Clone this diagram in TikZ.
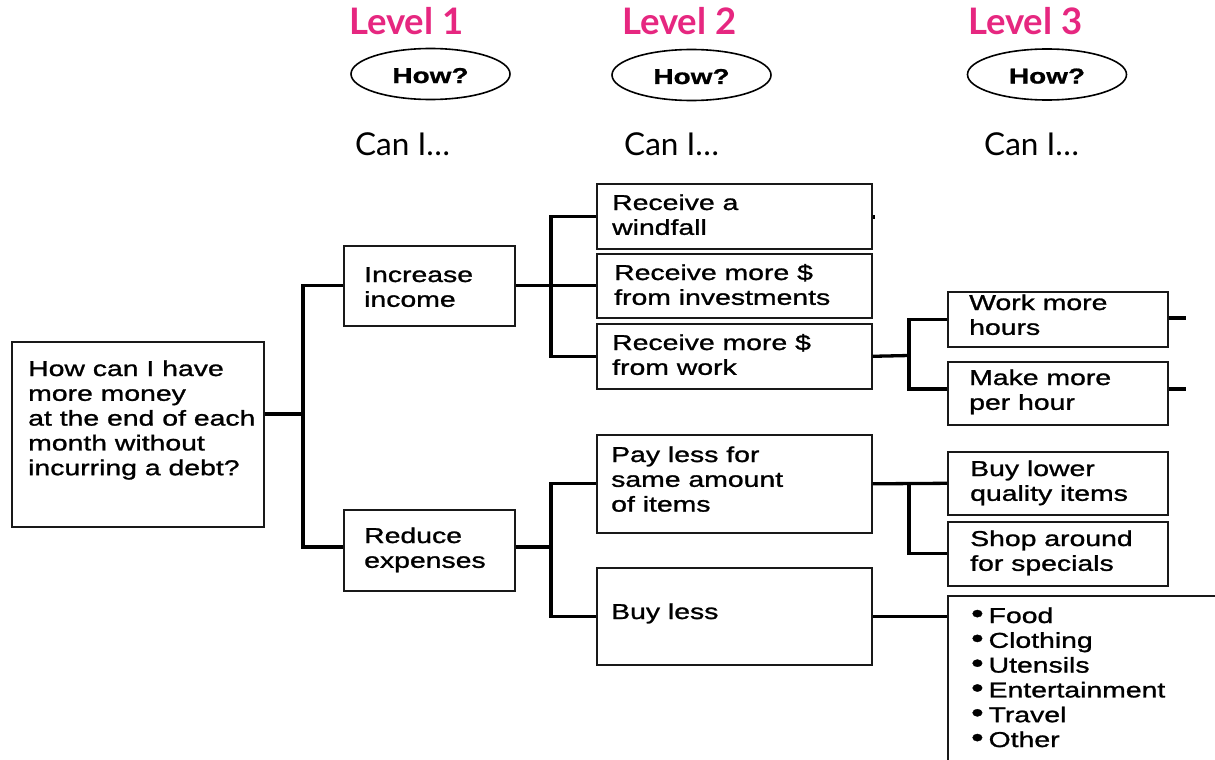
\documentclass[tikz,border=0pt]{standalone}
\usepackage{fontspec}
\setmainfont{Liberation Sans}
\newfontfamily\arialx{Liberation Sans}[FakeStretch=1.32,FakeBold=1.2]
\newfontfamily\arialb{Liberation Sans}[FakeStretch=1.30,FakeBold=1]
\newfontfamily\latof{Lato}
\usetikzlibrary{shapes.geometric,calc}
\definecolor{lvlpink}{RGB}{230,39,128}
\tikzset{
 bx/.style={draw=black!90, line width=1.6pt, inner sep=0pt, anchor=north west},
 conn/.style={draw=black, line width=3.3pt},
 txt/.style={anchor=base west, inner sep=0pt, font=\arialx\fontsize{21.5}{24.8}\selectfont},
 lvl/.style={anchor=base west, inner sep=0pt, text=lvlpink, font=\latof\bfseries\fontsize{36.5}{40}\selectfont},
 cani/.style={anchor=base west, inner sep=0pt, font=\latof\fontsize{31.5}{36}\selectfont},
 how/.style={draw=black, ellipse, line width=1.6pt, inner sep=0pt, minimum width=159pt, minimum height=51pt, text height=18pt, text depth=0pt, font=\arialb\bfseries\fontsize{21.5}{24}\selectfont},
}
\newcommand\stk[1]{\vtop{#1}}
\newcommand\bull{\raisebox{0.5pt}{\scalebox{1.25}{•}}\hspace{5pt}}
\begin{document}
\begin{tikzpicture}[x=1pt,y=-1pt]
\useasboundingbox (0,0) rectangle (1215,760);
\clip (0,0) rectangle (1215,760);

% headers
\node[lvl] (lvl1) at (349,35) {Level 1};
\node[lvl] (lvl2) at (622,35) {Level 2};
\node[lvl] (lvl3) at (968,35) {Level 3};
\node[how] (how1) at (430.5,74) {How?};
\node[how] (how2) at (691.5,75) {How?};
\node[how] (how3) at (1047,74.5) {How?};
\node[cani] (can1) at (355,155) {Can I…};
\node[cani] (can2) at (624,155) {Can I…};
\node[cani] (can3) at (984,155) {Can I…};

% boxes
\node[bx, minimum width=252, minimum height=185] (root) at (11,341) {};
\node[bx, minimum width=171, minimum height=80] (inc) at (343,245) {};
\node[bx, minimum width=171, minimum height=81] (red) at (343,509) {};
\node[bx, minimum width=275, minimum height=65] (wind) at (596,183) {};
\node[bx, minimum width=275, minimum height=64] (inv) at (596,253) {};
\node[bx, minimum width=275, minimum height=65] (work) at (596,323) {};
\node[bx, minimum width=220, minimum height=55] (wmh) at (947,291) {};
\node[bx, minimum width=220, minimum height=63] (mmh) at (947,361) {};
\node[bx, minimum width=275, minimum height=98] (pay) at (596,434) {};
\node[bx, minimum width=275, minimum height=97] (buy) at (596,567) {};
\node[bx, minimum width=220, minimum height=63] (blq) at (947,451) {};
\node[bx, minimum width=220, minimum height=64] (shop) at (947,521) {};
\node[bx, minimum width=290, minimum height=190] (bul) at (947,595) {};

% texts
\node[txt] (root-t) at (28,376) {\stk{\hbox{How can I have}\hbox{more money}\hbox{at the end of each}\hbox{month without}\hbox{incurring a debt?}}};
\node[txt] (inc-t) at (364,282) {\stk{\hbox{Increase}\hbox{income}}};
\node[txt] (red-t) at (364,543) {\stk{\hbox{Reduce}\hbox{expenses}}};
\node[txt] (wind-t) at (612,210) {\stk{\hbox{Receive a}\hbox{windfall}}};
\node[txt] (inv-t) at (614,280) {\stk{\hbox{Receive more \$}\hbox{from investments}}};
\node[txt] (work-t) at (612,350) {\stk{\hbox{Receive more \$}\hbox{from work}}};
\node[txt] (wmh-t) at (969,310) {\stk{\hbox{Work more}\hbox{hours}}};
\node[txt] (mmh-t) at (969,385) {\stk{\hbox{Make more}\hbox{per hour}}};
\node[txt] (pay-t) at (611,462) {\stk{\hbox{Pay less for}\hbox{same amount}\hbox{of items}}};
\node[txt] (buy-t) at (611,619) {Buy less};
\node[txt] (blq-t) at (970,476) {\stk{\hbox{Buy lower}\hbox{quality items}}};
\node[txt] (shop-t) at (970,546) {\stk{\hbox{Shop around}\hbox{for specials}}};
\node[txt] (bul-t) at (971,623) {\stk{\hbox{\bull Food}\hbox{\bull Clothing}\hbox{\bull Utensils}\hbox{\bull Entertainment}\hbox{\bull Travel}\hbox{\bull Other}}};

% junctions
\coordinate (j1) at (303,414);
\coordinate (j2) at (551,285);
\coordinate (j3) at (909,355.5);
\coordinate (j4) at (551,547);
\coordinate (j5) at (909,482.5);
\coordinate (stub0) at (875,217);
\coordinate (stub1) at (1186,318);
\coordinate (stub2) at (1186,389);

% connectors
\draw[conn] (root.east |- j1) -- (j1);
\draw[conn] (inc.west) -| (j1) |- (red.west |- j4);
\draw[conn] (inc.east) -- (inv.west);
\draw[conn] (wind.west) -| (j2) |- (work.west);
\draw[conn] (wind.east |- stub0) -- (stub0);
\draw[conn] (work.east) -- (j3);
\draw[conn] (wmh.west) -| (j3) |- (mmh.west |- stub2);
\draw[conn] (wmh.east |- stub1) -- (stub1);
\draw[conn] (mmh.east |- stub2) -- (stub2);
\draw[conn] (red.east |- j4) -- (j4);
\draw[conn] (pay.west) -| (j4) |- (buy.west);
\draw[conn] (pay.east) -- (blq.west);
\draw[conn] (blq.west) -| (j5) |- (shop.west);
\draw[conn] (buy.east) -- (buy.east -| bul.west);
\end{tikzpicture}
\end{document}
